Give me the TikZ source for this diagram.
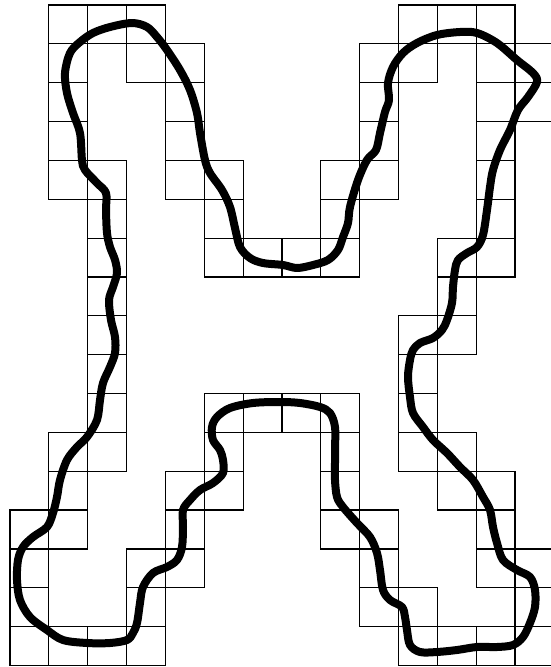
\documentclass[tikz,border=0pt]{standalone}
\usepackage{tikz}
\usetikzlibrary{calc}

\begin{document}
\begin{tikzpicture}[
    x=0.05cm,
    y=-0.05cm,
    cell/.style={
        draw=black,
        line width=0.06cm
    },
    curve/.style={
        draw=black,
        line width=0.4cm,
        line join=round
    }
]

\useasboundingbox (0,0) rectangle (551,667);
\clip (0,0) rectangle (551,667);

% covering squares (column, row)
\foreach \c/\r in {1/0,2/0,3/0,10/0,11/0,12/0,
    1/1,3/1,4/1,9/1,10/1,12/1,13/1,
    1/2,4/2,9/2,12/2,13/2,
    1/3,4/3,9/3,12/3,
    1/4,2/4,4/4,5/4,8/4,9/4,12/4,
    2/5,5/5,8/5,12/5,
    2/6,5/6,6/6,7/6,8/6,11/6,12/6,
    2/7,11/7,
    2/8,10/8,11/8,
    2/9,10/9,
    2/10,5/10,6/10,7/10,8/10,10/10,
    1/11,2/11,5/11,8/11,10/11,11/11,
    1/12,4/12,5/12,8/12,11/12,12/12,
    0/13,1/13,4/13,8/13,9/13,12/13,
    0/14,3/14,4/14,9/14,12/14,13/14,
    0/15,3/15,9/15,10/15,13/15,
    0/16,1/16,2/16,3/16,10/16,11/16,12/16,13/16}
{
    \draw[cell] ({10+38.85*\c},{5+38.85*\r}) rectangle ++(38.85,38.85);
}

% the closed curve
\draw[curve] plot[smooth cycle, tension=0.55] coordinates {
    (87,437) (97,420) (100,400) (103,383) (110,367) (115,353) (115,337)
    (111,320) (109,300) (113,287) (117,273) (115,260) (110,247) (107,233)
    (106,210) (106,193) (97,183) (85,170) (82,160) (80,133) (73,113)
    (67,93) (65,73) (70,53) (80,42) (93,33) (110,27) (132,23) (147,27)
    (157,37) (167,50) (180,70) (190,90) (197,113) (200,133) (205,160)
    (210,173) (222,190) (230,207) (235,228) (240,247) (250,258) (263,263)
    (283,265) (297,268) (313,265) (328,260) (338,250) (343,237) (348,223)
    (350,207) (358,180) (367,160) (376,150) (380,133) (385,112) (389,100)
    (388,83) (393,67) (403,53) (417,43) (437,35) (460,32) (477,33)
    (497,43) (517,60) (533,73) (537,82) (528,97) (518,110) (510,130)
    (500,150) (493,170) (490,187) (487,210) (483,235) (477,247) (467,253)
    (458,260) (455,270) (453,287) (452,303) (447,320) (442,330) (433,338)
    (420,343) (413,350) (410,360) (408,377) (410,397) (413,413) (423,427)
    (433,440) (447,453) (460,467) (473,480) (483,497) (490,510) (493,527)
    (497,543) (503,560) (517,570) (530,577) (535,590) (535,607) (530,623)
    (523,637) (513,645) (497,647) (477,647) (457,650) (437,652) (420,652)
    (410,645) (407,630) (405,617) (402,607) (390,600) (383,590) (380,570)
    (377,553) (370,537) (357,523) (343,507) (337,497) (335,480) (335,463)
    (335,450) (335,427) (330,413) (320,407) (300,403) (280,402) (253,403)
    (230,408) (217,417) (212,427) (213,440) (220,450) (223,460) (223,473)
    (213,483) (200,490) (190,500) (183,510) (183,527) (182,547) (177,560)
    (167,567) (153,573) (143,587) (140,603) (137,623) (133,633) (127,640)
    (110,643) (87,643) (63,640) (47,630) (30,617) (20,600) (17,580)
    (18,560) (23,547) (33,537) (47,527) (53,513) (57,497) (60,480)
    (67,460) (77,447)};

\end{tikzpicture}
\end{document}
